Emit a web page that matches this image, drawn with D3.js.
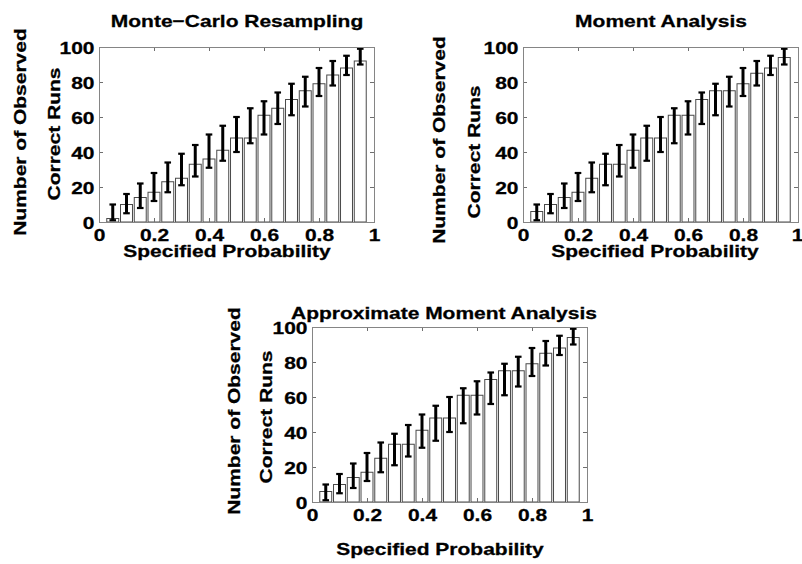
<!DOCTYPE html>
<html>
<head>
<meta charset="utf-8">
<script src="https://cdn.jsdelivr.net/npm/d3@7"></script>
<style>
  html, body { margin: 0; padding: 0; background: #fff; }
  svg { display: block; }
  text { font-family: "Liberation Sans", Arial, Helvetica, sans-serif; font-weight: bold; font-size: 21px;
         fill: #000; stroke: #000; stroke-width: 0.35px; }
</style>
</head>
<body>
<svg id="fig" width="802" height="564"></svg>
<script>
// Specified probability of each group of runs
const probabilities = [0.05, 0.10, 0.15, 0.20, 0.25, 0.30, 0.35, 0.40, 0.45, 0.50,
                       0.55, 0.60, 0.65, 0.70, 0.75, 0.80, 0.85, 0.90, 0.95];

// Number of observed correct runs (out of 100) for each method
const monteCarloCounts = [2, 10, 14, 17, 23, 25, 33, 36, 41, 48, 48, 61, 65, 70, 75, 79, 84, 88, 92];
const momentCounts     = [6, 10, 14, 17, 25, 33, 33, 41, 48, 48, 61, 61, 70, 75, 75, 79, 85, 88, 94];
const approxCounts     = [6, 10, 14, 17, 25, 33, 33, 41, 48, 48, 61, 61, 70, 75, 75, 79, 85, 88, 94];

// 95% binomial interval for the expected count at each probability
const ciLower = [1, 5, 8, 12, 17, 21, 26, 31, 35, 40, 45, 50, 56, 61, 66, 72, 78, 84, 90];
const ciUpper = [10, 16, 22, 28, 34, 39, 44, 50, 55, 60, 65, 69, 74, 79, 83, 88, 92, 95, 99];

// Axis ticks
const xTicks = [0, 0.2, 0.4, 0.6, 0.8, 1];
const yTicks = [0, 20, 40, 60, 80, 100];

const titles = ["Monte\u2212Carlo Resampling", "Moment Analysis", "Approximate Moment Analysis"];
const xLabel = "Specified Probability";
const yLabelLines = ["Number of Observed", "Correct Runs"];

const W = 275, H = 175;
const barWidth = 0.0435;     // in probability units
const squash = 0.81;         // vertical glyph scale used for all text
const figWidth = 802;

const panels = [
  { title: titles[0], counts: monteCarloCounts, left: 99,  top: 47,
    titleX: 237, titleY: 26.5, xlabX: 227, xlabY: 257, ylab: [[26, 132], [60, 134]] },
  { title: titles[1], counts: momentCounts,     left: 523, top: 47,
    titleX: 661, titleY: 26.5, xlabX: 655, xlabY: 257, ylab: [[445, 140], [480, 152]] },
  { title: titles[2], counts: approxCounts,     left: 312, top: 327,
    titleX: 444, titleY: 318.5, xlabX: 440, xlabY: 555, ylab: [[240, 411], [272, 417]] }
];

const svg = d3.select("#fig");

function addText(parent, str, x, y, rotate, anchor) {
  return parent.append("text")
    .attr("transform", `translate(${x},${y}) rotate(${rotate}) scale(1,${squash})`)
    .attr("text-anchor", anchor)
    .text(str);
}

panels.forEach(p => {
  const x = d3.scaleLinear().domain([0, 1]).range([0, W]);
  const y = d3.scaleLinear().domain([0, 100]).range([H, 0]);
  const g = svg.append("g").attr("transform", `translate(${p.left},${p.top})`);
  const bw = x(barWidth) - x(0);

  // bars
  g.selectAll("rect.bar").data(probabilities).enter().append("rect")
    .attr("class", "bar")
    .attr("x", (d) => x(d) - bw / 2)
    .attr("y", (d, i) => y(p.counts[i]))
    .attr("width", bw)
    .attr("height", (d, i) => y(0) - y(p.counts[i]))
    .attr("fill", "#fff")
    .attr("stroke", "#4a4a4a")
    .attr("stroke-width", 1);

  // confidence interval error bars
  const eb = g.selectAll("g.err").data(probabilities).enter().append("g").attr("class", "err");
  eb.append("line")
    .attr("x1", d => x(d)).attr("x2", d => x(d))
    .attr("y1", (d, i) => y(ciLower[i])).attr("y2", (d, i) => y(ciUpper[i]))
    .attr("stroke", "#000").attr("stroke-width", 3);
  [ciLower, ciUpper].forEach(arr => {
    eb.append("line")
      .attr("x1", d => x(d) - 3.3).attr("x2", d => x(d) + 3.3)
      .attr("y1", (d, i) => y(arr[i])).attr("y2", (d, i) => y(arr[i]))
      .attr("stroke", "#000").attr("stroke-width", 2.2);
  });

  // axes: inward ticks on all four sides, labels on bottom and left
  const tickCol = "#6e6e6e";
  const bottom = g.append("g").attr("transform", `translate(0,${H})`)
    .call(d3.axisBottom(x).tickValues(xTicks).tickFormat(d3.format("")).tickSizeInner(-4).tickSizeOuter(0));
  const top = g.append("g")
    .call(d3.axisTop(x).tickValues(xTicks).tickFormat("").tickSizeInner(-4).tickSizeOuter(0));
  const left = g.append("g")
    .call(d3.axisLeft(y).tickValues(yTicks).tickFormat(d3.format("")).tickSizeInner(-4).tickSizeOuter(0));
  const right = g.append("g").attr("transform", `translate(${W},0)`)
    .call(d3.axisRight(y).tickValues(yTicks).tickFormat("").tickSizeInner(-4).tickSizeOuter(0));
  [bottom, top, left, right].forEach(a => {
    a.select(".domain").remove();
    a.selectAll("line").attr("stroke", tickCol);
    a.attr("font-size", null).attr("font-family", null);
  });
  // keep the last x tick label inside the figure edge
  bottom.selectAll("text")
    .attr("y", null).attr("dy", null)
    .attr("transform", d => {
      const shift = Math.min(0, figWidth - 5 - (p.left + x(d)));
      return `translate(${shift},19.2) scale(1,${squash})`;
    });
  left.selectAll("text")
    .attr("x", null).attr("dy", null)
    .attr("transform", `translate(-4.5,6) scale(1,${squash})`);
  top.selectAll("text").remove();
  right.selectAll("text").remove();

  // axes box
  g.append("rect")
    .attr("x", 0.5).attr("y", 0.5).attr("width", W).attr("height", H)
    .attr("fill", "none").attr("stroke", "#858585").attr("stroke-width", 1);

  // titles and labels
  addText(svg, p.title, p.titleX, p.titleY, 0, "middle");
  addText(svg, xLabel, p.xlabX, p.xlabY, 0, "middle");
  addText(svg, yLabelLines[0], p.ylab[0][0], p.ylab[0][1], -90, "middle");
  addText(svg, yLabelLines[1], p.ylab[1][0], p.ylab[1][1], -90, "middle");
});
</script>
</body>
</html>
